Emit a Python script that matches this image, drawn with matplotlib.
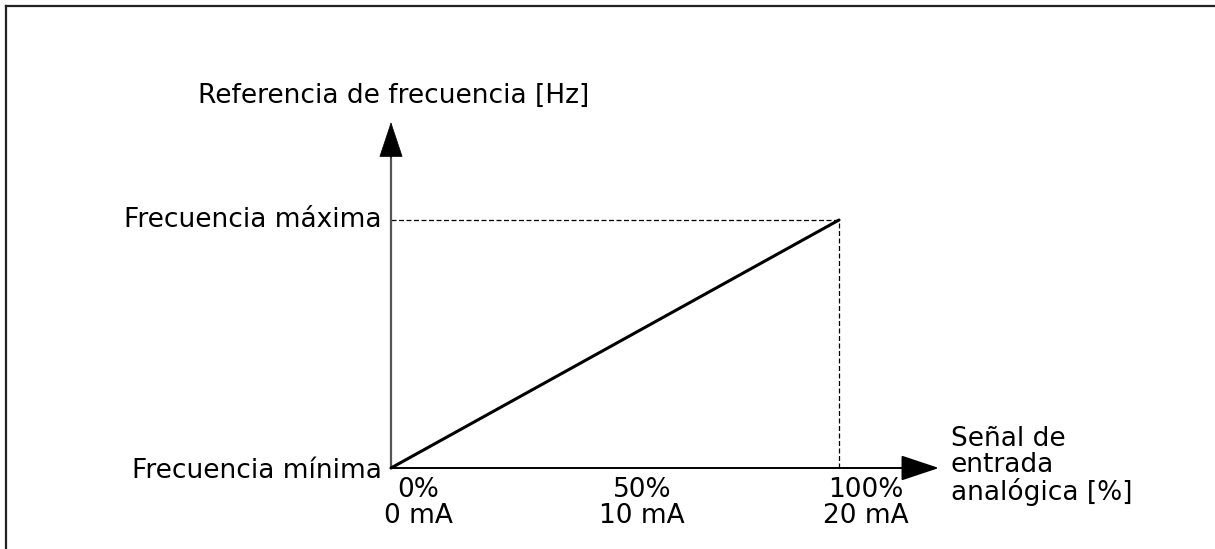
import matplotlib
matplotlib.use("Agg")
import matplotlib.pyplot as plt
import matplotlib.transforms as mtransforms
from matplotlib.lines import Line2D

# input signal (%) vs frequency reference (0 = min, 1 = max)
signal_pct = [0, 100]
freq_ref = [0, 1]

tick_pos = [0, 50, 100]
tick_labels = ["0%\n0 mA", "50%\n10 mA", "100%\n20 mA"]

y_title = "Referencia de frecuencia [Hz]"
x_title = "Señal de\nentrada\nanalógica [%]"
f_max_label = "Frecuencia máxima"
f_min_label = "Frecuencia mínima"

W, H = 1215, 549
FS = 19

fig = plt.figure(figsize=(W / 100, H / 100), dpi=100)
# axes box spans origin (391,468) to max point (839,220) in pixels
x0, y0, x1, y1 = 391, 468, 839, 220
ax = fig.add_axes([x0 / W, (H - y0) / H, (x1 - x0) / W, (y0 - y1) / H])
ax.set_xlim(0, 100)
ax.set_ylim(0, 1)
ax.axis("off")

# outer frame (left and top edges only visible)
fig.add_artist(Line2D([5.5 / W, 5.5 / W], [0, 1 - 6 / H], color="#222222", lw=1.6))
fig.add_artist(Line2D([5.5 / W, 1], [1 - 6 / H, 1 - 6 / H], color="#222222", lw=1.6))

# dashed guide lines to the max point
ax.plot([signal_pct[0], signal_pct[-1]], [freq_ref[-1], freq_ref[-1]], color="black",
        lw=0.9, ls=(0, (4, 2)), clip_on=False)
ax.plot([signal_pct[-1], signal_pct[-1]], [freq_ref[0], freq_ref[-1]], color="black",
        lw=0.9, ls=(0, (4, 2)), clip_on=False)

# y axis: grey shaft, black head
ax.plot([0, 0], [0, 1.27], color="#555555", lw=1.6, clip_on=False)
ax.annotate("", xy=(0, 1.395), xytext=(0, 1.25), annotation_clip=False,
            arrowprops=dict(arrowstyle="-|>,head_length=2.4,head_width=0.8",
                            mutation_scale=10, color="black", lw=0.5,
                            shrinkA=0, shrinkB=0))
# x axis
ax.annotate("", xy=(122.3, 0), xytext=(0, 0), annotation_clip=False,
            arrowprops=dict(arrowstyle="-|>,head_length=2.4,head_width=0.8",
                            mutation_scale=10, color="black", lw=1.4,
                            shrinkA=0, shrinkB=0))

# the characteristic line
ax.plot(signal_pct, freq_ref, color="black", lw=2.2, clip_on=False, solid_capstyle="round")

# tick labels under the x axis
off = mtransforms.ScaledTranslation(27 / 100, -9 / 100, fig.dpi_scale_trans)
for xp, lab in zip(tick_pos, tick_labels):
    ax.text(xp, 0, lab, transform=ax.transData + off, ha="center", va="top",
            fontsize=FS, linespacing=1.0, multialignment="center")

# y side labels
lab_off = mtransforms.ScaledTranslation(-9 / 100, -7 / 100, fig.dpi_scale_trans)
ax.text(0, freq_ref[-1], f_max_label, transform=ax.transData + lab_off,
        ha="right", va="baseline", fontsize=FS)
lab_off2 = mtransforms.ScaledTranslation(-9 / 100, -10 / 100, fig.dpi_scale_trans)
ax.text(0, freq_ref[0], f_min_label, transform=ax.transData + lab_off2,
        ha="right", va="baseline", fontsize=FS)

# axis titles
fig.text(198 / W, 1 - 103 / H, y_title, ha="left", va="baseline", fontsize=FS)
fig.text(951 / W, 1 - 500 / H, x_title, ha="left", va="baseline", fontsize=FS,
         linespacing=1.0)

fig.savefig("out.png", dpi=100)
